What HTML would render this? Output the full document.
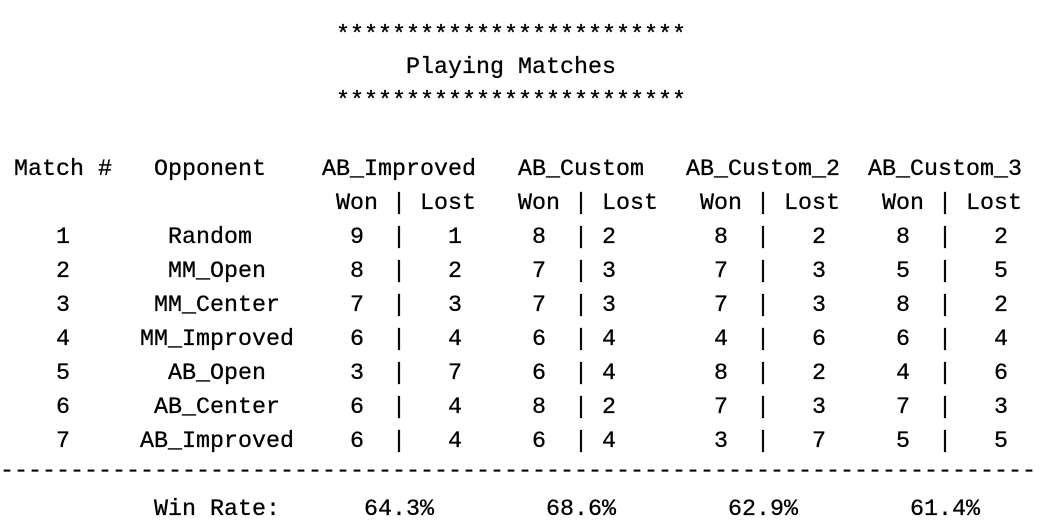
<!DOCTYPE html>
<html><head><meta charset="utf-8">
<style>
html,body{margin:0;padding:0;background:#fff;}
#wrap{position:relative;width:1052px;height:528px;overflow:hidden;background:#fff;}
.ln{position:absolute;left:0;white-space:pre;font-family:"Liberation Mono","DejaVu Sans Mono",monospace;font-size:23.33px;line-height:34px;height:34px;color:#000;-webkit-text-stroke:0.3px #000;}
</style></head>
<body>
<div id="wrap"></div>
<script>
const opponents=["Random","MM_Open","MM_Center","MM_Improved","AB_Open","AB_Center","AB_Improved"];
const agents=["AB_Improved","AB_Custom","AB_Custom_2","AB_Custom_3"];
const wonImproved=[9,8,7,6,3,6,6];
const wonCustom=[8,7,7,6,6,8,6];
const wonCustom2=[8,7,7,4,8,7,3];
const wonCustom3=[8,5,8,6,4,7,5];
const winRates=["64.3%","68.6%","62.9%","61.4%"];
const wonSeries=[wonImproved,wonCustom,wonCustom2,wonCustom3];

const wrap=document.getElementById('wrap');
function line(items,centerY,name){
  let arr=[];
  for(const [col,str] of items){
    while(arr.length<col+str.length)arr.push(' ');
    for(let i=0;i<str.length;i++)arr[col+i]=str[i];
  }
  const d=document.createElement('div');
  d.className='ln';
  
  
  d.style.top=(centerY-15)+'px';
  d.textContent=arr.join('');
  wrap.appendChild(d);
}
const stars='*'.repeat(25);
line([[24,stars]],34,'top-stars');
line([[29,'Playing Matches']],66,'title');
line([[24,stars]],100,'bottom-stars');
const hdrCols=[23,37,49,62];
line([[1,'Match #'],[11,'Opponent']].concat(agents.map((a,i)=>[hdrCols[i],a])),168,'header-row');
const wonCols=[24,37,50,63],barCols=[28,41,54,67],lostCols=[30,43,56,69];
let sub=[];
for(let i=0;i<4;i++){sub.push([wonCols[i],'Won'],[barCols[i],'|'],[lostCols[i],'Lost']);}
line(sub,202,'won-lost-subheader');
const wDig=[25,38,51,64],lDig=[32,43,58,71];
opponents.forEach((o,r)=>{
  const oc=Math.floor(11+(9-o.length)/2);
  let items=[[4,String(r+1)],[oc,o]];
  for(let i=0;i<4;i++){
    const w=wonSeries[i][r];
    items.push([wDig[i],String(w)],[barCols[i],'|'],[lDig[i],String(10-w)]);
  }
  line(items,236+r*34,'row-'+(r+1));
});
line([[0,'-'.repeat(74)]],470,'divider');
const rateCols=[26,39,52,65];
line([[11,'Win Rate:']].concat(winRates.map((w,i)=>[rateCols[i],w])),508,'win-rate-row');
</script>
</body></html>
